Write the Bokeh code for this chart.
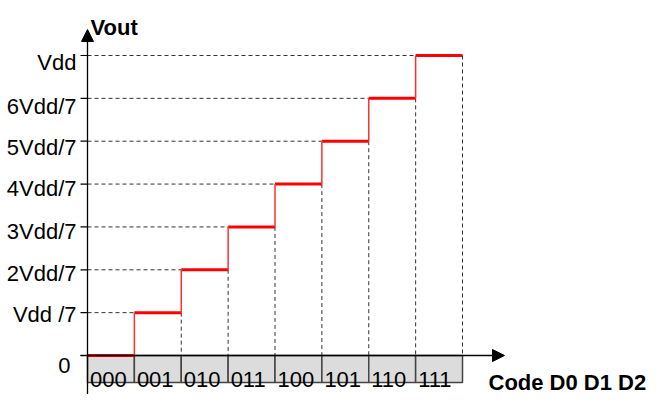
from bokeh.plotting import figure
from bokeh.models import Arrow, NormalHead, Range1d
from bokeh.core.properties import value
from bokeh.embed import file_html
from bokeh.resources import INLINE

# ---- data ----
codes = ["000", "001", "010", "011", "100", "101", "110", "111"]
levels = [0, 1, 2, 3, 4, 5, 6, 7]
level_labels = ["0", "Vdd /7", "2Vdd/7", "3Vdd/7", "4Vdd/7", "5Vdd/7", "6Vdd/7", "Vdd"]
x_title = "Code D0 D1 D2"
y_title = "Vout"

# ---- layout constants (pixels) ----
W, H = 651, 394
X0, XS = 87, 46.875      # canvas px of code 0, px per code step
Y0, YS = 39, 300 / 7     # px from bottom for level 0, px per level
label_dy = [10, 2, 4, 5, 4, 6, 8, 7]     # baseline below tick, px
label_dx = [17, 11, 11, 11, 11, 11, 11, 11]  # right edge left of axis, px
FS = "22px"


def px(n):
    return n / XS


def py(n):
    return n / YS


FONT = value("Liberation Sans")
n = len(codes)

p = figure(width=W, height=H,
           x_range=Range1d(-X0 / XS, (W - X0) / XS),
           y_range=Range1d(-Y0 / YS, (H - Y0) / YS),
           x_axis_type=None, y_axis_type=None,
           output_backend="svg", toolbar_location=None, min_border=0)
p.grid.visible = False
p.outline_line_color = None
p.background_fill_color = "white"

# dashed guide lines
hx0 = [0] * (n - 1)
hx1 = list(range(1, n))
hy = levels[1:]
p.segment(x0=hx0, y0=hy, x1=hx1, y1=hy, line_color="#333333",
          line_width=1, line_dash="4 3")
vx = [k + 1 for k in range(1, n)]
p.segment(x0=vx, y0=levels[1:], x1=vx, y1=[0] * (n - 1), line_color="#333333",
          line_width=1, line_dash="4 3")

# y ticks
p.segment(x0=[-px(7)] * n, y0=levels, x1=[0] * n, y1=levels,
          line_color="black", line_width=1.2)

# code boxes
p.quad(left=list(range(n)), right=[i + 1 for i in range(n)],
       top=[0] * n, bottom=[-py(27)] * n,
       fill_color="#dcdcdc", line_color="#444444", line_width=1.5)
p.text(x=[i + px(2.5) for i in range(n)], y=[-py(24)] * n, text=codes,
       text_font=FONT, text_font_size=FS, text_color="black",
       text_baseline="alphabetic", text_align="left")

# axes with arrows
p.add_layout(Arrow(end=NormalHead(size=12, fill_color="black", line_color="black"),
                   x_start=0, y_start=-py(60), x_end=0, y_end=py(355 - 29),
                   line_color="black", line_width=1.3))
p.add_layout(Arrow(end=NormalHead(size=12, fill_color="black", line_color="black"),
                   x_start=-px(7), y_start=0, x_end=px(504 - 87), y_end=0,
                   line_color="black", line_width=1.3))

# staircase
p.segment(x0=list(range(n)), y0=levels, x1=[i + 1 for i in range(n)], y1=levels,
          line_color="#ff0000", line_width=3)
p.segment(x0=list(range(1, n)), y0=levels[:-1], x1=list(range(1, n)), y1=levels[1:],
          line_color="#ff3030", line_width=1.5)

# y labels
p.text(x=[-px(d) for d in label_dx], y=[l - py(d) for l, d in zip(levels, label_dy)],
       text=level_labels, text_font=FONT, text_font_size=FS, text_color="black",
       text_align="right", text_baseline="alphabetic")

# titles
p.text(x=[px(3)], y=[py(355 - 27)], text=[y_title], text_font=FONT,
       text_font_size=FS, text_font_style="bold", text_color="black",
       text_baseline="alphabetic", text_align="left")
p.text(x=[px(488 - 87)], y=[-py(382 - 355)], text=[x_title], text_font=FONT,
       text_font_size=FS, text_font_style="bold", text_color="black",
       text_baseline="alphabetic", text_align="left")

open("out.html", "w").write(file_html(p, INLINE))
